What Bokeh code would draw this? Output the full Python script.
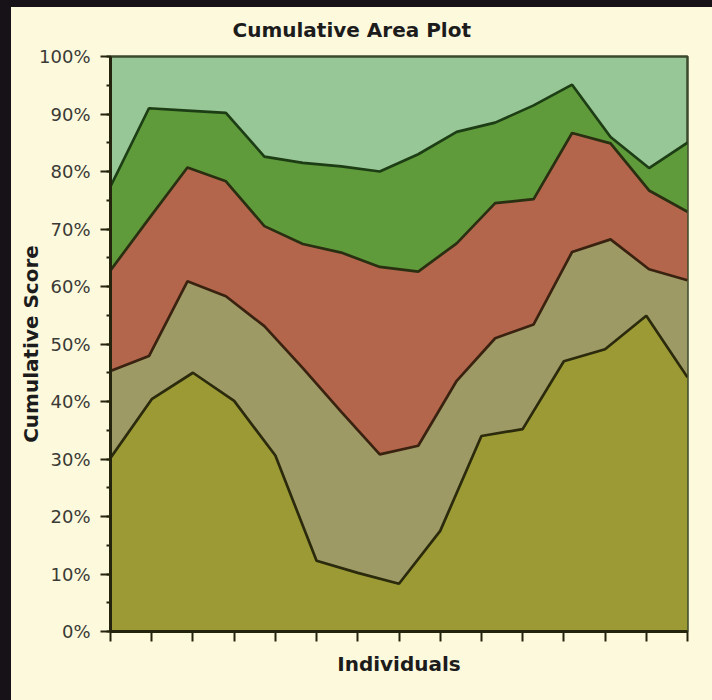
from bokeh.plotting import figure
from bokeh.models import (Range1d, FixedTicker, SingleIntervalTicker, PrintfTickFormatter,
                          CustomJSTickFormatter)
from bokeh.embed import file_html
from bokeh.resources import INLINE

# ---- data -------------------------------------------------------------
title_text = "Cumulative Area Plot"
x_label = "Individuals"
y_label = "Cumulative Score"

individuals = list(range(1, 16))            # 15 x tick positions
n_upper = 16                                # upper layers are sampled at 16 points
upper_x = [1 + i * (len(individuals) - 1) / (n_upper - 1) for i in range(n_upper)]

# cumulative boundaries (percent)
layer1_top = [30.2, 40.4, 45.0, 40.1, 30.6, 12.3, 10.2, 8.3, 17.5, 34.0, 35.2, 47.0, 49.1, 54.9, 44.2]
layer2_top = [45.3, 47.9, 60.9, 58.3, 53.1, 45.8, 38.2, 30.8, 32.3, 43.6, 51.0, 53.4, 66.0, 68.2, 63.0, 61.1]
layer3_top = [62.8, 71.8, 80.7, 78.3, 70.5, 67.4, 65.9, 63.4, 62.6, 67.5, 74.5, 75.2, 86.7, 84.9, 76.7, 73.0]
layer4_top = [77.4, 91.0, 90.6, 90.2, 82.6, 81.5, 80.9, 80.0, 83.0, 86.9, 88.5, 91.5, 95.1, 86.0, 80.6, 85.0]

colors = ["#9b9a35", "#9e9a65", "#b3664b", "#5f9a3b", "#97c796"]
line_colors = ["#2b2a0c", "#3a2210", "#2a2f12", "#1d3d15"]

# ---- figure -----------------------------------------------------------
p = figure(width=712, height=700, x_range=Range1d(1, 15), y_range=Range1d(0, 100),
           output_backend="svg", toolbar_location=None,
           min_border_left=110, min_border_right=25, min_border_top=55, min_border_bottom=69)
p.border_fill_color = None
p.styles = {"background": "linear-gradient(to right, #161217 0px, #161217 11px, transparent 11px), "
                          "linear-gradient(to bottom, #161217 0px, #161217 7px, #fdf9dc 7px)"}
p.background_fill_color = colors[4]
p.outline_line_color = "#3b4a2c"
p.outline_line_width = 2.5
p.xgrid.visible = False
p.ygrid.visible = False

# layers
p.varea(x=individuals, y1=0, y2=layer1_top, fill_color=colors[0])
p.patch(x=upper_x + individuals[::-1], y=layer2_top + layer1_top[::-1],
        fill_color=colors[1], line_color=None)
p.varea(x=upper_x, y1=layer2_top, y2=layer3_top, fill_color=colors[2])
p.varea(x=upper_x, y1=layer3_top, y2=layer4_top, fill_color=colors[3])

# boundary lines
p.line(individuals, layer1_top, line_color=line_colors[0], line_width=2.7)
p.line(upper_x, layer2_top, line_color=line_colors[1], line_width=2.7)
p.line(upper_x, layer3_top, line_color=line_colors[2], line_width=2.7)
p.line(upper_x, layer4_top, line_color=line_colors[3], line_width=2.7)

# title
p.title.text = title_text
p.title.align = "left"
p.title.offset = 122
p.title.text_font = "DejaVu Sans"
p.title.text_font_style = "bold"
p.title.text_font_size = "20px"
p.title.text_color = "#1c1c1c"
p.title.standoff = 30

# axes
p.yaxis.ticker = SingleIntervalTicker(interval=10, num_minor_ticks=2)
p.yaxis.formatter = PrintfTickFormatter(format="%d%%")
p.yaxis.major_label_text_font = "DejaVu Sans"
p.yaxis.major_label_text_font_size = "18px"
p.yaxis.major_label_text_color = "#3a3a36"
p.yaxis.major_label_standoff = 10
p.yaxis.axis_label = y_label
p.yaxis.axis_label_text_font = "DejaVu Sans"
p.yaxis.axis_label_text_font_style = "bold"
p.yaxis.axis_label_text_font_size = "20px"
p.yaxis.axis_label_text_color = "#1c1c1c"
p.yaxis.axis_label_standoff = -7

p.xaxis.ticker = FixedTicker(ticks=individuals)
p.xaxis.formatter = CustomJSTickFormatter(code="return ''")
p.xaxis.axis_label = x_label
p.xaxis.axis_label_text_font = "DejaVu Sans"
p.xaxis.axis_label_text_font_style = "bold"
p.xaxis.axis_label_text_font_size = "20px"
p.xaxis.axis_label_text_color = "#1c1c1c"
p.xaxis.axis_label_standoff = 10

for ax in (p.xaxis, p.yaxis):
    ax.axis_line_color = "#24240e"
    ax.axis_line_width = 3
    ax.major_tick_line_color = "#24240e"
    ax.major_tick_line_width = 2
    ax.major_tick_out = 10
    ax.major_tick_in = 0
    ax.minor_tick_line_color = "#24240e"
    ax.minor_tick_line_width = 2
    ax.minor_tick_out = 4
    ax.minor_tick_in = 0

open("out.html", "w").write(file_html(p, INLINE))
